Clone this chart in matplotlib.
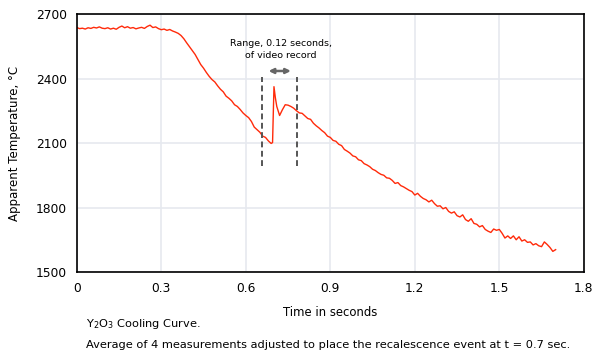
""" Y2O3 cooling curve with the recalescence event at t = 0.7 s """

import numpy as np
import matplotlib.pyplot as plt

plt.rcParams['font.family'] = ['DejaVu Sans']
plt.rcParams['mathtext.default'] = 'regular'

time_s = [
    0.00, 0.01, 0.02, 0.03, 0.04, 0.05, 0.06, 0.07, 0.08, 0.09,
    0.10, 0.11, 0.12, 0.13, 0.14, 0.15, 0.16, 0.17, 0.18, 0.19,
    0.20, 0.21, 0.22, 0.23, 0.24, 0.25, 0.26, 0.27, 0.28, 0.29,
    0.30, 0.31, 0.32, 0.33, 0.34, 0.35, 0.36, 0.37, 0.38, 0.39,
    0.40, 0.41, 0.42, 0.43, 0.44, 0.45, 0.46, 0.47, 0.48, 0.49,
    0.50, 0.51, 0.52, 0.53, 0.54, 0.55, 0.56, 0.57, 0.58, 0.59,
    0.60, 0.61, 0.62, 0.63, 0.64, 0.65, 0.66, 0.67, 0.68, 0.685,
    0.69, 0.695, 0.700, 0.705, 0.71, 0.72, 0.73, 0.74, 0.75, 0.76,
    0.77, 0.78, 0.79, 0.80, 0.81, 0.82, 0.83, 0.84, 0.85, 0.86,
    0.87, 0.88, 0.89, 0.90, 0.91, 0.92, 0.93, 0.94, 0.95, 0.96,
    0.97, 0.98, 0.99, 1.00, 1.01, 1.02, 1.03, 1.04, 1.05, 1.06,
    1.07, 1.08, 1.09, 1.10, 1.11, 1.12, 1.13, 1.14, 1.15, 1.16,
    1.17, 1.18, 1.19, 1.20, 1.21, 1.22, 1.23, 1.24, 1.25, 1.26,
    1.27, 1.28, 1.29, 1.30, 1.31, 1.32, 1.33, 1.34, 1.35, 1.36,
    1.37, 1.38, 1.39, 1.40, 1.41, 1.42, 1.43, 1.44, 1.45, 1.46,
    1.47, 1.48, 1.49, 1.50, 1.51, 1.52, 1.53, 1.54, 1.55, 1.56,
    1.57, 1.58, 1.59, 1.60, 1.61, 1.62, 1.63, 1.64, 1.65, 1.66,
    1.67, 1.68, 1.69, 1.70,
]
temp_c = [
    2637, 2632, 2634, 2630, 2636, 2633, 2638, 2635, 2640, 2634,
    2632, 2636, 2630, 2634, 2629, 2638, 2644, 2636, 2641, 2634,
    2637, 2631, 2635, 2638, 2633, 2642, 2648, 2637, 2640, 2632,
    2627, 2630, 2624, 2628, 2621, 2616, 2610, 2600, 2585, 2566,
    2548, 2530, 2512, 2488, 2465, 2448, 2428, 2410, 2395, 2384,
    2366, 2350, 2338, 2318, 2308, 2296, 2278, 2270, 2256, 2240,
    2228, 2218, 2200, 2174, 2162, 2150, 2132, 2126, 2110, 2104,
    2098, 2102, 2362, 2310, 2270, 2228, 2255, 2278, 2276, 2270,
    2262, 2250, 2240, 2238, 2226, 2214, 2210, 2192, 2180, 2170,
    2158, 2148, 2132, 2126, 2112, 2108, 2094, 2088, 2070, 2062,
    2053, 2040, 2036, 2022, 2018, 2004, 1998, 1990, 1978, 1972,
    1962, 1954, 1950, 1938, 1936, 1926, 1912, 1916, 1902, 1896,
    1888, 1880, 1874, 1858, 1866, 1852, 1842, 1836, 1826, 1834,
    1818, 1806, 1808, 1794, 1800, 1782, 1774, 1780, 1762, 1756,
    1766, 1744, 1736, 1748, 1726, 1722, 1710, 1716, 1698, 1690,
    1684, 1700, 1694, 1698, 1680, 1658, 1668, 1656, 1668, 1650,
    1664, 1644, 1650, 1638, 1640, 1626, 1632, 1622, 1618, 1640,
    1628, 1614, 1596, 1604,
]

# Video record window
video_start, video_end = 0.656, 0.78
window_low, window_high = 1995, 2405

x_ticks = [0, 0.3, 0.6, 0.9, 1.2, 1.5, 1.8]
x_labels = ['0', '0.3', '0.6', '0.9', '1.2', '1.5', '1.8']
y_ticks = [1500, 1800, 2100, 2400, 2700]

fig = plt.figure(figsize=(6, 3.6), dpi=100)
ax = fig.add_axes([0.128, 0.2444, 0.845, 0.7167])

ax.plot(time_s, temp_c, color='#ff2a0a', lw=1.0)

# dashed limits of the video window
for xv in (video_start, video_end):
    ax.plot([xv, xv], [window_low, window_high], color='#555555', lw=1.4,
            ls=(0, (3, 1.8)))
ax.annotate('', xy=(video_start + 0.015, 2435), xytext=(video_end - 0.01, 2435),
            arrowprops=dict(arrowstyle='<|-|>', color='#666666', lw=1.8,
                            mutation_scale=7))
ax.text(0.725, 2535, 'Range, 0.12 seconds,\nof video record', ha='center',
        va='center', fontsize=6.8, linespacing=1.45)

ax.set_xlim(0, 1.8)
ax.set_ylim(1500, 2700)
ax.set_xticks(x_ticks)
ax.set_xticklabels(x_labels)
ax.set_yticks(y_ticks)
ax.tick_params(length=0, labelsize=8.8, pad=7)
ax.grid(color='#e6e9ef', lw=1.2)
ax.set_axisbelow(True)
for s in ax.spines.values():
    s.set_linewidth(1.2)

ax.set_xlabel('Time in seconds', fontsize=8.4)
ax.xaxis.set_label_coords(0.5, -0.155)
ax.set_ylabel('Apparent Temperature, °C', fontsize=8.5)
ax.yaxis.set_label_coords(-0.122, 0.5)
ax.xaxis.label.set_va('center')
ax.yaxis.label.set_va('center')

fig.text(0.143, 1 - 324 / 360, 'Y$_2$O$_3$ Cooling Curve.', fontsize=8.2, va='center')
fig.text(0.143, 1 - 345 / 360,
         'Average of 4 measurements adjusted to place the recalescence event at t = 0.7 sec.',
         fontsize=8.2, va='center')

fig.savefig('out.png', dpi=100)
